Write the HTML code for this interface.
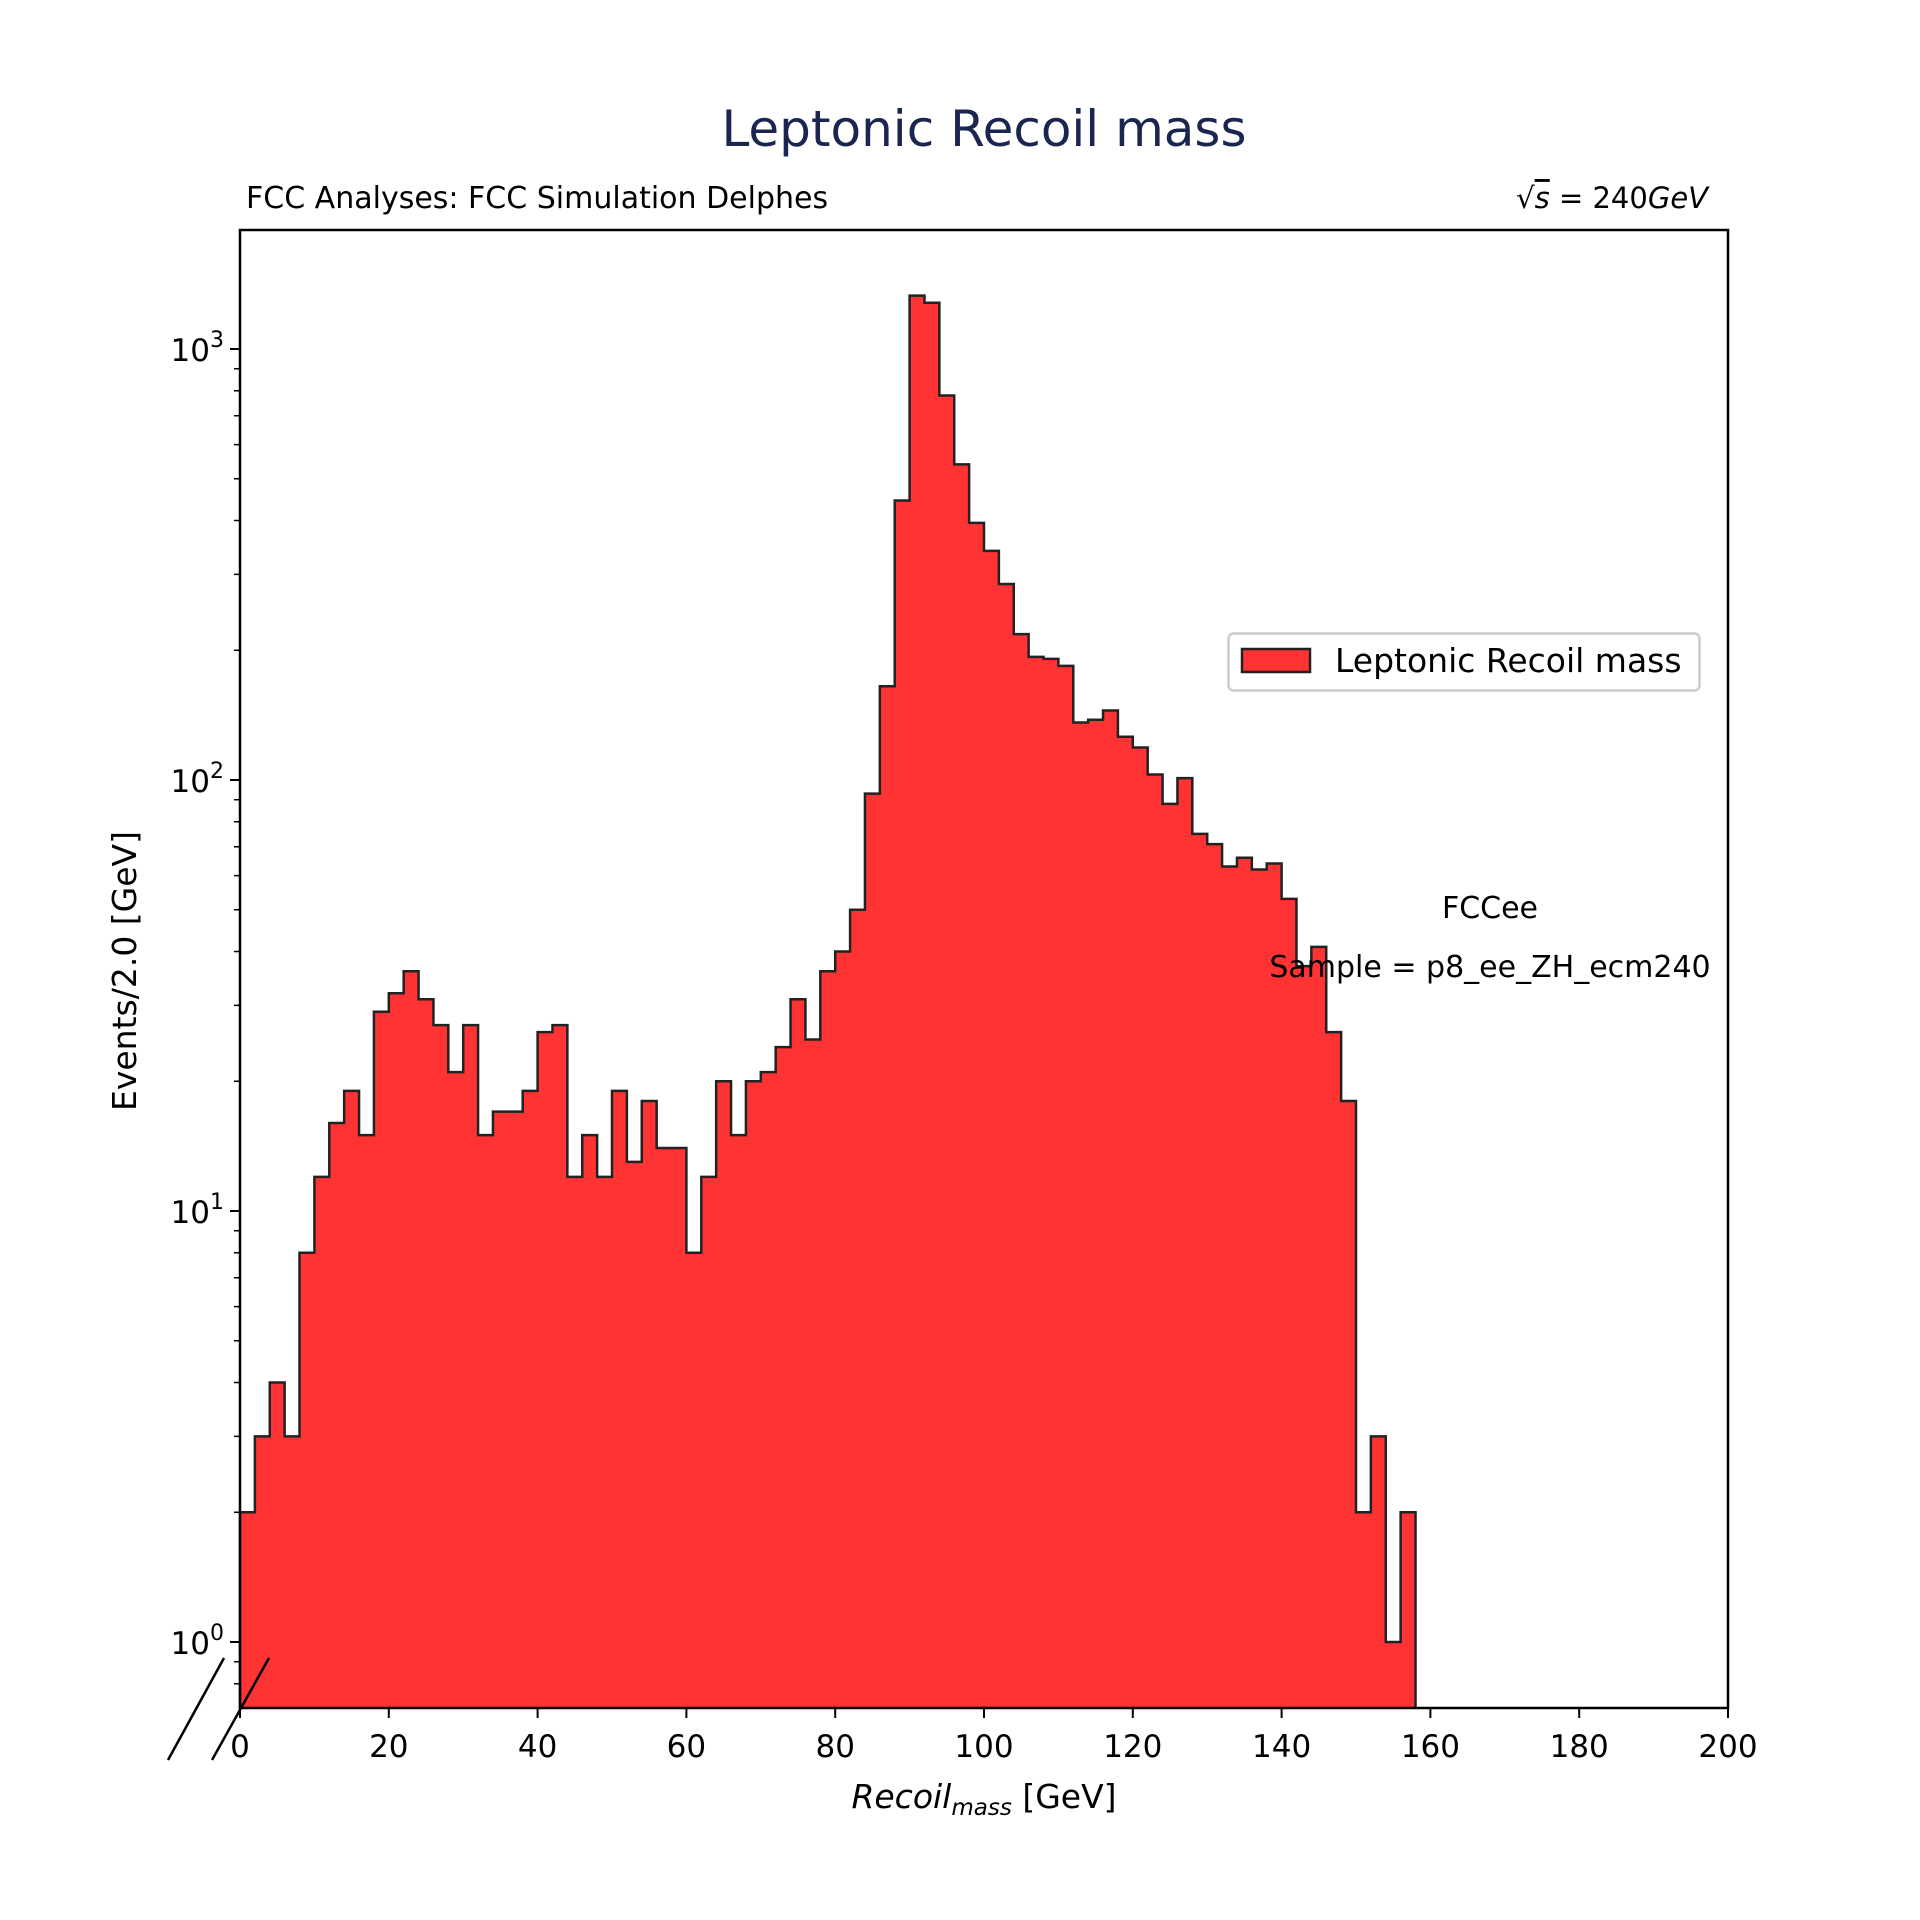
<!DOCTYPE html>
<html><head><meta charset="utf-8"><style>
html,body{margin:0;padding:0;background:#fff;}
svg{display:block;font-family:"DejaVu Sans","Liberation Sans",sans-serif;}
</style></head><body>
<svg id="chart" width="1920" height="1920" viewBox="0 0 1920 1920" xmlns="http://www.w3.org/2000/svg">
<rect width="1920" height="1920" fill="#fff"/>
<text x="984" y="146" font-size="50" fill="#1a2550" text-anchor="middle">Leptonic Recoil mass</text>
<text x="246" y="208" font-size="30">FCC Analyses: FCC Simulation Delphes</text>
<text x="1708" y="208" font-size="29" text-anchor="end">√<tspan font-style="italic" text-decoration="overline">s</tspan> = 240<tspan font-style="italic">GeV</tspan></text>
<g id="plot"></g>
<text x="1490" y="918" font-size="30" text-anchor="middle">FCCee</text>
<text x="1490" y="977" font-size="30" text-anchor="middle">Sample = p8_ee_ZH_ecm240</text>
<g>
<rect x="1228.5" y="633.5" width="471" height="57" rx="5" fill="#fff" fill-opacity="0.8" stroke="#ccc" stroke-width="2.5"/>
<rect x="1242" y="649" width="68" height="23" fill="#ff3333" stroke="#222" stroke-width="2.5"/>
<text x="1335" y="672" font-size="33">Leptonic Recoil mass</text>
</g>
<text transform="translate(136,971) rotate(-90)" font-size="33" text-anchor="middle">Events/2.0 [GeV]</text>
<text x="984" y="1808" font-size="33" text-anchor="middle"><tspan font-style="italic">Recoil</tspan><tspan font-style="italic" font-size="23" dy="7">mass</tspan><tspan dy="-7"> [GeV]</tspan></text>
</svg>
<script>
const binLow = [0,2,4,6,8,10,12,14,16,18,20,22,24,26,28,30,32,34,36,38,40,42,44,46,48,50,52,54,56,58,60,62,64,66,68,70,72,74,76,78,80,82,84,86,88,90,92,94,96,98,100,102,104,106,108,110,112,114,116,118,120,122,124,126,128,130,132,134,136,138,140,142,144,146,148,150,152,154,156];
const counts = [2,3,4,3,8,12,16,19,15,29,32,36,31,27,21,27,15,17,17,19,26,27,12,15,12,19,13,18,14,14,8,12,20,15,20,21,24,31,25,36,40,50,93,165,445,1330,1280,780,540,395,340,285,218,193,191,184,136,138,145,126,119,103,88,101,75,71,63,66,62,64,53,37,41,26,18,2,3,1,2];
const xTicks = [0,20,40,60,80,100,120,140,160,180,200];
const yDecades = [0,1,2,3];
const binWidth = 2;
const X0=240,X1=1728,Y0=230,Y1=1708;
const xMin=0,xMax=200, lMin=-0.1531, lMax=3.2761;
const xs=v=>X0+(v-xMin)/(xMax-xMin)*(X1-X0);
const ys=v=>{let l=Math.log10(Math.max(v,1e-9)); if(l<lMin) l=lMin; return Y1-(l-lMin)/(lMax-lMin)*(Y1-Y0);};
const NS="http://www.w3.org/2000/svg";
const g=document.getElementById('plot');
function mk(t,a,p){const e=document.createElementNS(NS,t);for(const k in a)e.setAttribute(k,a[k]);(p||g).appendChild(e);return e;}
let d=`M${xs(binLow[0])},${Y1}`;
for(let i=0;i<counts.length;i++){d+=` L${xs(binLow[i])},${ys(counts[i])} L${xs(binLow[i]+binWidth)},${ys(counts[i])}`;}
d+=` L${xs(binLow[binLow.length-1]+binWidth)},${Y1} Z`;
const fill=mk('path',{d:d,fill:'#ff3333',stroke:'none'});


let s=`M${xs(binLow[0])},${Y1}`;
for(let i=0;i<counts.length;i++){s+=` L${xs(binLow[i])},${ys(counts[i])} L${xs(binLow[i]+binWidth)},${ys(counts[i])}`;}
s+=` L${xs(binLow[binLow.length-1]+binWidth)},${Y1}`;
const step=mk('path',{d:s,fill:'none',stroke:'#222','stroke-width':2.5});


const fr=mk('rect',{x:X0,y:Y0,width:X1-X0,height:Y1-Y0,fill:'none',stroke:'#000','stroke-width':2.5});


xTicks.forEach(v=>{
  const t=mk('line',{x1:xs(v),x2:xs(v),y1:Y1,y2:Y1+10,stroke:'#000','stroke-width':2});
  
  
  const l=mk('text',{x:xs(v),y:Y1+49,'font-size':31,'text-anchor':'middle'});
  l.textContent=v;
  
  
});
yDecades.forEach(k=>{
  const y=ys(Math.pow(10,k));
  const t=mk('line',{x1:X0-10,x2:X0,y1:y,y2:y,stroke:'#000','stroke-width':2});
  
  
  const l=mk('text',{x:X0-16,y:y+12,'font-size':31,'text-anchor':'end'});
  l.innerHTML='10<tspan font-size="22" dy="-14">'+k+'</tspan>';
  
  
});
for(let k=-1;k<=3;k++){for(let m=2;m<=9;m++){
  const v=m*Math.pow(10,k); const l=Math.log10(v); if(l<lMin||l>lMax) continue;
  const t=mk('line',{x1:X0-6,x2:X0,y1:ys(v),y2:ys(v),stroke:'#000','stroke-width':1.5});
  
  
}}
const b1=mk('line',{x1:168,y1:1760,x2:224,y2:1658,stroke:'#000','stroke-width':2.5});


const b2=mk('line',{x1:212,y1:1760,x2:269,y2:1658,stroke:'#000','stroke-width':2.5});


</script>
</body></html>
